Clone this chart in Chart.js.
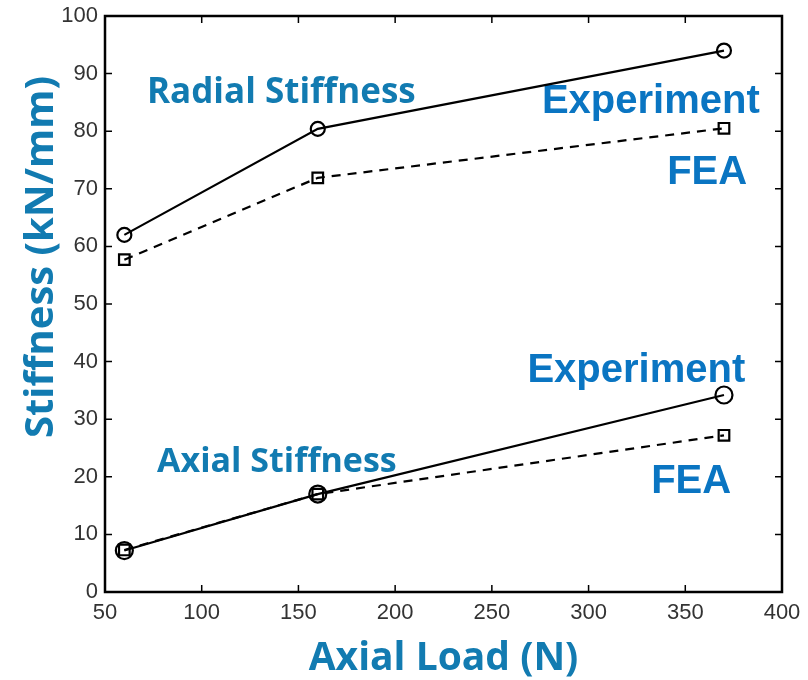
<!DOCTYPE html>
<html>
<head>
<meta charset="utf-8">
<script src="https://cdn.jsdelivr.net/npm/chart.js@4"></script>
<style>
  body { margin: 0; background: #fff; }
  #wrap { width: 808px; height: 680px; position: relative; }
</style>
</head>
<body>
<div id="wrap"><canvas id="stiffChart"></canvas></div>
<script>
"use strict";

// Data
const axialLoad = [60, 160, 370];
const radialExperiment = [62.0, 80.4, 94.0];
const radialFEA = [57.7, 71.9, 80.5];
const axialExperiment = [7.2, 17.0, 34.2];
const axialFEA = [7.3, 17.0, 27.2];

const xTicks = [50, 100, 150, 200, 250, 300, 350, 400];
const yTicks = [0, 10, 20, 30, 40, 50, 60, 70, 80, 90, 100];

const blueTitle = '#127bb1';
const blueLabel = '#0a75c2';

// Text labels inside the plot, anchored in data units
const notes = [
    { text: 'Radial Stiffness', x: 71.7, y: 84.9, align: 'left', font: 'bold 35px "Open Sans"', color: blueTitle },
    { text: 'Experiment', x: 388.5, y: 83.2, align: 'right', font: 'bold 40px "Liberation Sans"', color: blueLabel },
    { text: 'FEA', x: 382, y: 70.8, align: 'right', font: 'bold 40px "Liberation Sans"', color: blueLabel },
    { text: 'Experiment', x: 381, y: 36.5, align: 'right', font: 'bold 40px "Liberation Sans"', color: blueLabel },
    { text: 'FEA', x: 373.7, y: 17.2, align: 'right', font: 'bold 40px "Liberation Sans"', color: blueLabel },
    { text: 'Axial Stiffness', x: 76.9, y: 20.8, align: 'left', font: 'bold 34px "Open Sans"', color: blueTitle }
];

const toPoints = (ys) => axialLoad.map((x, i) => ({ x: x, y: ys[i] }));

const series = (label, ys, dashed, style, radius) => ({
    label: label,
    data: toPoints(ys),
    borderColor: '#000',
    borderWidth: 2.2,
    borderDash: dashed ? [9, 7] : [],
    pointStyle: style,
    pointRadius: radius,
    pointBorderWidth: 2.2,
    pointBorderColor: '#000',
    pointBackgroundColor: 'rgba(0,0,0,0)',
    tension: 0
});

// Inward ticks, box and text labels
const boxPlugin = {
    id: 'boxPlugin',
    beforeDatasetsDraw(chart) {
        const { ctx, scales: { x, y } } = chart;
        ctx.save();
        ctx.textBaseline = 'alphabetic';
        notes.forEach(n => {
            ctx.font = n.font;
            ctx.fillStyle = n.color;
            ctx.textAlign = n.align;
            ctx.fillText(n.text, x.getPixelForValue(n.x), y.getPixelForValue(n.y));
        });
        ctx.restore();
    },
    afterDraw(chart) {
        const { ctx, chartArea: a, scales: { x, y } } = chart;
        const len = 7;
        ctx.save();
        ctx.strokeStyle = '#000';
        ctx.lineWidth = 1.5;
        ctx.beginPath();
        xTicks.forEach(v => {
            const px = x.getPixelForValue(v);
            ctx.moveTo(px, a.bottom); ctx.lineTo(px, a.bottom - len);
            ctx.moveTo(px, a.top); ctx.lineTo(px, a.top + len);
        });
        yTicks.forEach(v => {
            const py = y.getPixelForValue(v);
            ctx.moveTo(a.left, py); ctx.lineTo(a.left + len, py);
            ctx.moveTo(a.right, py); ctx.lineTo(a.right - len, py);
        });
        ctx.stroke();
        ctx.lineWidth = 2.5;
        ctx.strokeRect(a.left, a.top, a.right - a.left, a.bottom - a.top);

        // y axis title
        ctx.translate(42, 257);
        ctx.rotate(-Math.PI / 2);
        ctx.font = 'bold 40px "Open Sans"';
        ctx.fillStyle = blueTitle;
        ctx.textAlign = 'center';
        ctx.textBaseline = 'middle';
        ctx.fillText('Stiffness (kN/mm)', 0, 0);
        ctx.restore();
    }
};

const tickFont = { family: '"Liberation Sans", Arial, sans-serif', size: 22, lineHeight: 1 };

new Chart(document.getElementById('stiffChart'), {
    type: 'line',
    data: {
        datasets: [
            series('Radial Experiment', radialExperiment, false, 'circle', 7),
            series('Radial FEA', radialFEA, true, 'rect', 7.5),
            series('Axial FEA', axialFEA, true, 'rect', 7.5),
            series('Axial Experiment', axialExperiment, false, 'circle', 8.5)
        ]
    },
    options: {
        responsive: true,
        maintainAspectRatio: false,
        animation: false,
        layout: { padding: { top: 16, right: 26, left: 0, bottom: 0 } },
        plugins: {
            legend: { display: false },
            tooltip: { enabled: false }
        },
        scales: {
            x: {
                type: 'linear',
                min: 50,
                max: 400,
                afterBuildTicks: (s) => { s.ticks = xTicks.map(v => ({ value: v })); },
                afterFit: (s) => { s.height = 88; s.paddingLeft = 0; s.paddingRight = 0; },
                grid: { display: false, drawTicks: false },
                border: { display: false },
                ticks: { font: tickFont, color: '#333', padding: 10, maxRotation: 0 },
                title: {
                    display: true,
                    text: 'Axial Load (N)',
                    color: blueTitle,
                    font: { family: '"Open Sans"', size: 39, weight: 'bold', lineHeight: 1 },
                    padding: { top: 0, bottom: 2 }
                }
            },
            y: {
                type: 'linear',
                min: 0,
                max: 100,
                afterBuildTicks: (s) => { s.ticks = yTicks.map(v => ({ value: v })); },
                afterFit: (s) => { s.width = 105; s.paddingTop = 0; s.paddingBottom = 0; },
                grid: { display: false, drawTicks: false },
                border: { display: false },
                ticks: { font: tickFont, color: '#333', padding: 7 }
            }
        }
    },
    plugins: [boxPlugin]
});
</script>
</body>
</html>
